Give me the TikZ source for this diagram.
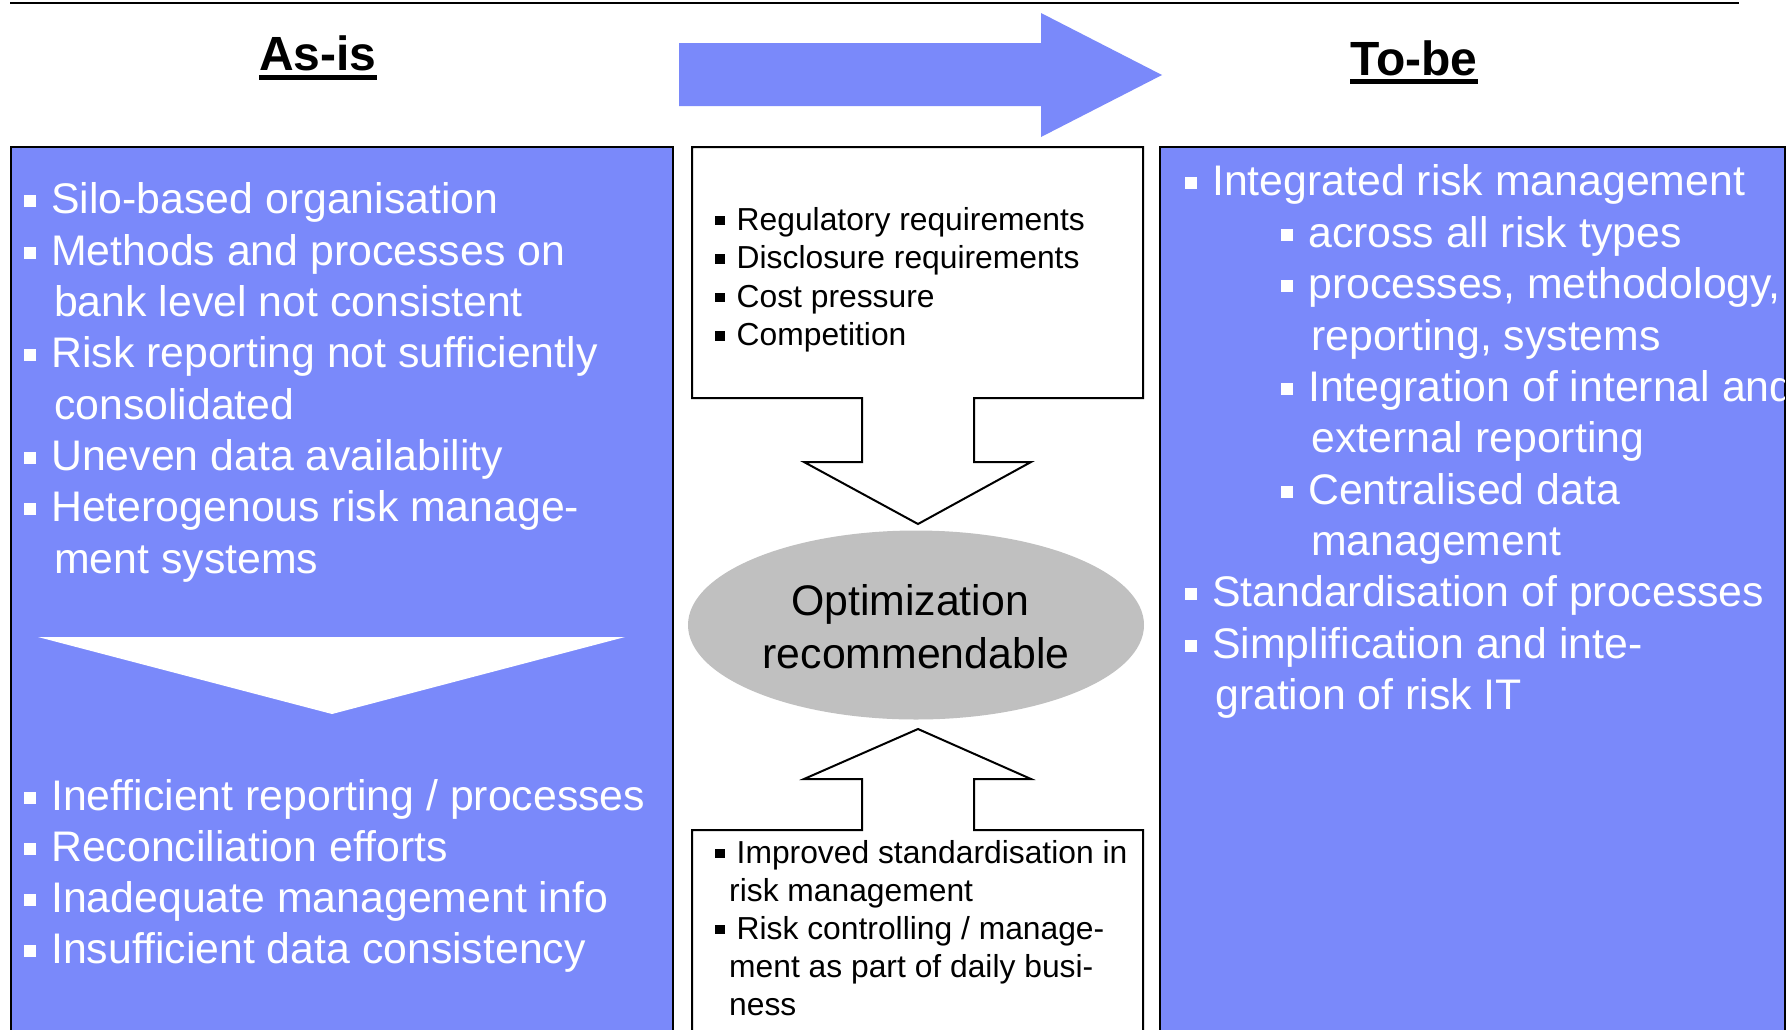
\documentclass[tikz,border=0pt]{standalone}
\usepackage{fontspec}
\setmainfont{Liberation Sans}
\usetikzlibrary{shapes.geometric}
\definecolor{panelblue}{RGB}{122,137,250}
\definecolor{ellgray}{RGB}{192,192,192}
\newcommand\pfont{\fontsize{42.8}{51}\selectfont}
\newcommand\cfont{\fontsize{31.8}{38}\selectfont}
\newcommand\hfont{\fontsize{48}{56}\selectfont\bfseries}
\newcommand\wbul{\rule[6pt]{12pt}{12pt}\hspace{15pt}}
\newcommand\bbul{\rule[5pt]{9.5pt}{9.5pt}\hspace{12pt}}
\begin{document}
\begin{tikzpicture}[x=1pt,y=-1pt,
  panel/.style={fill=panelblue,draw=black,line width=2pt},
  outl/.style={fill=white,draw=black,line width=2pt,line join=miter},
  wline/.style={anchor=base west,inner sep=0pt,text=white,font=\pfont},
  bline/.style={anchor=base west,inner sep=0pt,text=black,font=\cfont},
  head/.style={anchor=base,inner sep=0pt,font=\hfont},
  eline/.style={anchor=base,inner sep=0pt,font=\pfont}]
\clip (0,0) rectangle (1791,1029);
\fill[white] (0,0) rectangle (1791,1029);
% top rule
\draw[line width=2.4pt] (10,2.7) -- (1739,2.7);
% headings
\node[head] (asis) at (318,70) {As-is};
\draw[line width=5pt] ([yshift=-7.5pt]asis.base west) -- ([yshift=-7.5pt]asis.base east);
\node[head] (tobe) at (1414,75) {To-be};
\draw[line width=4.5pt] ([yshift=-6.5pt]tobe.base west) -- ([yshift=-6.5pt]tobe.base east);
% big arrow
\fill[panelblue] (679,43) -- (1041,43) -- (1041,13) -- (1162,75) -- (1041,137) -- (1041,106) -- (679,106) -- cycle;
% panels
\draw[panel] (11,147) rectangle (673,1045);
\draw[panel] (1160,147) rectangle (1785,1045);
% white triangle
\fill[white] (38,637) -- (625,637) -- (332,714) -- cycle;
% left panel text
\node[wline] (l1) at (24,213) {\wbul Silo-based organisation};
\node[wline] (l2) at (24,265) {\wbul Methods and processes on};
\node[wline] (l3) at (54,316) {bank level not consistent};
\node[wline] (l4) at (24,367) {\wbul Risk reporting not sufficiently};
\node[wline] (l5) at (54,419) {consolidated};
\node[wline] (l6) at (24,470) {\wbul Uneven data availability};
\node[wline] (l7) at (24,521) {\wbul Heterogenous risk manage-};
\node[wline] (l8) at (54,573) {ment systems};
\node[wline] (m1) at (24,810) {\wbul Inefficient reporting / processes};
\node[wline] (m2) at (24,861) {\wbul Reconciliation efforts};
\node[wline] (m3) at (24,912) {\wbul Inadequate management info};
\node[wline] (m4) at (24,963) {\wbul Insufficient data consistency};
% right panel text
\begin{scope}
\clip (1161,148) rectangle (1784,1029);
\node[wline] (r1) at (1185,195) {\wbul Integrated risk management};
\node[wline] (r2) at (1281,247) {\wbul across all risk types};
\node[wline] (r3) at (1281,298) {\wbul processes, methodology,};
\node[wline] (r4) at (1311,350) {reporting, systems};
\node[wline] (r5) at (1281,401) {\wbul Integration of internal and};
\node[wline] (r6) at (1311,452) {external reporting};
\node[wline] (r7) at (1281,504) {\wbul Centralised data};
\node[wline] (r8) at (1311,555) {management};
\node[wline] (r9) at (1185,606) {\wbul Standardisation of processes};
\node[wline] (r10) at (1185,658) {\wbul Simplification and inte-};
\node[wline] (r11) at (1215,709) {gration of risk IT};
\end{scope}
% centre top box with down arrow
\draw[outl] (692,147) -- (1143,147) -- (1143,398) -- (974,398) -- (974,462) -- (1031,462) -- (918,524) -- (804,462) -- (862,462) -- (862,398) -- (692,398) -- cycle;
\node[bline] (c1) at (715,230) {\bbul Regulatory requirements};
\node[bline] (c2) at (715,268.5) {\bbul Disclosure requirements};
\node[bline] (c3) at (715,307) {\bbul Cost pressure};
\node[bline] (c4) at (715,345.5) {\bbul Competition};
% ellipse
\node[ellipse,fill=ellgray,minimum width=456pt,minimum height=189pt,inner sep=0pt] (ell) at (916,625) {};
\node[eline] (e1) at (910,615) {Optimization};
\node[eline] (e2) at (916,668) {recommendable};
% centre bottom box with up arrow
\draw[outl] (692,1045) -- (692,830) -- (862,830) -- (862,779) -- (804,779) -- (918,729) -- (1031,779) -- (974,779) -- (974,830) -- (1143,830) -- (1143,1045);
\node[bline] (b1) at (715,863) {\bbul Improved standardisation in};
\node[bline] (b2) at (729,901) {risk management};
\node[bline] (b3) at (715,939) {\bbul Risk controlling / manage-};
\node[bline] (b4) at (729,977) {ment as part of daily busi-};
\node[bline] (b5) at (729,1015) {ness};
\end{tikzpicture}
\end{document}
